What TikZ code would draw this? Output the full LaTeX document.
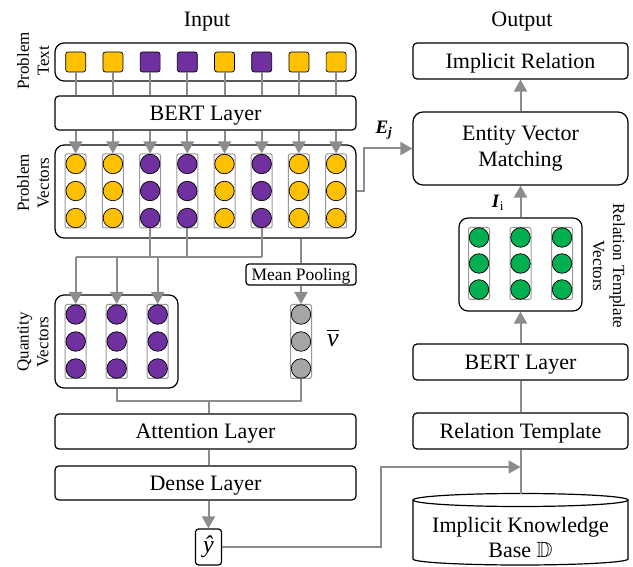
\documentclass[tikz,border=0pt]{standalone}
\usepackage{fontspec}
\usepackage{amssymb}
\setmainfont{Liberation Serif}
\usetikzlibrary{arrows.meta}
\definecolor{cy}{HTML}{FFC000}
\definecolor{cp}{HTML}{7030A0}
\definecolor{cg}{HTML}{00B050}
\definecolor{cgr}{HTML}{A6A6A6}
\definecolor{lgray}{HTML}{8C8C8C}
\definecolor{cgray}{HTML}{9A9A9A}
\begin{document}
\begin{tikzpicture}[x=1pt,y=-1pt,
  gl/.style={draw=lgray, line width=2pt},
  ga/.style={gl, -{Triangle[length=12pt,width=13pt]}},
  blk/.style={draw=black, line width=1.2pt, rounded corners=4pt, fill=white, font=\fontsize{22}{26}\selectfont, inner sep=0pt, align=center},
  onel/.style={text height=14.6pt, text depth=0pt},
  grp/.style={draw=black, line width=1.2pt, rounded corners=9pt},
  colbox/.style={draw=cgray, line width=1pt, fill=white, rounded corners=2pt, minimum width=21pt, minimum height=74pt, inner sep=0pt},
  dot/.style={circle, draw=black, line width=0.7pt, minimum size=19.5pt, inner sep=0pt},
  sq/.style={draw=black, line width=0.7pt, rounded corners=2.5pt, minimum size=20pt, inner sep=0pt},
  side/.style={font=\fontsize{17}{20}\selectfont, align=center, inner sep=0pt},
  ttl/.style={font=\fontsize{22}{26}\selectfont, inner sep=0pt, text height=14.6pt, text depth=0pt},
  lbl/.style={font=\fontsize{19}{22}\selectfont, inner sep=0pt}]
\useasboundingbox (0,0) rectangle (633,567);

% titles
\node[ttl] (tin) at (207,19) {Input};
\node[ttl] (tout) at (522,19) {Output};

% side labels
\node[side, rotate=90] (lpt) at (33,61) {Problem\\Text};
\node[side, rotate=90] (lpv) at (33,183) {Problem\\Vectors};
\node[side, rotate=90] (lqv) at (33,342) {Quantity\\Vectors};
\node[side, rotate=-90] (lrt) at (609,266) {Relation Template\\Vectors};

% left column boxes
\node[grp, minimum width=301pt, minimum height=38pt] (ptbox) at (205.5,62) {};
\node[blk, onel, minimum width=301pt, minimum height=34pt] (bert) at (205.5,113) {BERT Layer};
\node[grp, minimum width=301pt, minimum height=93pt] (pvbox) at (205.5,191.5) {};
\node[blk, rounded corners=3pt, minimum width=110pt, minimum height=21pt, font=\fontsize{17.5}{20}\selectfont, text height=11.6pt, text depth=0pt] (mp) at (301,274.5) {Mean Pooling};
\node[grp, minimum width=123pt, minimum height=93pt] (qbox) at (116.5,341.5) {};
\node[blk, onel, minimum width=301pt, minimum height=35pt] (att) at (205.5,431.5) {Attention Layer};
\node[blk, onel, minimum width=301pt, minimum height=34pt] (dense) at (205.5,483) {Dense Layer};
\node[blk, rounded corners=3pt, minimum width=26pt, minimum height=36pt, font=\fontsize{24}{28}\selectfont] (yhat) at (208.5,547) {\textit{ŷ}};

% problem text squares and problem vectors
\foreach \i/\col in {1/cy,2/cy,3/cp,4/cp,5/cy,6/cp,7/cy,8/cy} {
  \pgfmathsetmacro\xx{75.7+37.2*(\i-1)}
  \node[sq, fill=\col] (s\i) at (\xx,62) {};
  \node[colbox] (pv\i) at (\xx,191) {};
  \foreach \k/\yy in {a/164,b/191,c/218} \node[dot, fill=\col] (pv\i\k) at (\xx,\yy) {};
  \draw[gl] (s\i.south) -- (s\i.south |- bert.north);
  \draw[ga] (pv\i.north |- bert.south) -- (pv\i.north);
}

% quantity vectors
\foreach \i/\xx in {1/75.7,2/116.7,3/157.7} {
  \node[colbox] (qv\i) at (\xx,341.5) {};
  \foreach \k/\yy in {a/314.5,b/341.5,c/368.5} \node[dot, fill=cp] (qv\i\k) at (\xx,\yy) {};
}
% mean vector
\node[colbox] (vb) at (301,341.5) {};
\foreach \k/\yy in {a/314.5,b/341.5,c/368.5} \node[dot, fill=cgr] (vb\k) at (301,\yy) {};
\node[lbl, font=\fontsize{26}{30}\selectfont] (vbar) at (333,338) {$\overline{\textit{v}}$};

% bus from problem vectors to quantity vectors
\coordinate (bus) at (0,257);
\foreach \i in {3,4,6} \draw[gl] (pv\i.south) -- (pv\i.south |- bus);
\draw[gl] (qv1.north |- bus) -- (pv6.south |- bus);
\foreach \i in {1,2,3} \draw[ga] (qv\i.north |- bus) -- (qv\i.north);

% mean pooling
\draw[gl] (pvbox.south -| mp) -- (mp.north);
\draw[ga] (mp.south) -- (vb.north);

% join to attention
\coordinate (jn) at (208.5,401);
\draw[gl] (qbox.south) -- (qbox.south |- jn) -- (vb.south |- jn) -- (vb.south);
\draw[gl] (jn) -- (jn |- att.north);
\draw[gl] (att.south -| jn) -- (dense.north -| jn);
\draw[ga] (dense.south -| yhat) -- (yhat.north);

% right column
\node[blk, onel, minimum width=215pt, minimum height=36pt] (ir) at (520.5,61) {Implicit Relation};
\node[blk, rounded corners=10pt, minimum width=215pt, minimum height=73pt] (evm) at (520.5,148.5) {Entity Vector\\Matching};
\node[grp, minimum width=123pt, minimum height=93pt] (rtv) at (520.5,264.5) {};
\foreach \i/\xx in {1/479,2/520.5,3/562} {
  \node[colbox, minimum height=72pt] (rv\i) at (\xx,263.5) {};
  \foreach \k/\yy in {a/237.5,b/263.5,c/289.5} \node[dot, fill=cg] (rv\i\k) at (\xx,\yy) {};
}
\node[blk, onel, minimum width=215pt, minimum height=36pt] (bert2) at (520.5,362) {BERT Layer};
\node[blk, onel, minimum width=215pt, minimum height=36pt] (rt) at (520.5,431) {Relation Template};

% cylinder
\draw[line width=1.2pt, fill=white] (413,500) -- (413,559) arc[start angle=180, end angle=360, x radius=107.5pt, y radius=6pt] -- (628,500);
\draw[line width=1.2pt] (520.5,500) ellipse [x radius=107.5pt, y radius=6.5pt];
\coordinate (kbtop) at (520.5,493.5);
\node[font=\fontsize{22}{25}\selectfont, align=center, inner sep=0pt] (kb) at (520.5,537) {Implicit Knowledge\\Base $\mathbb{D}$};

% right connectors
\draw[ga] (evm.north) -- (ir.south);
\draw[ga] (rtv.north) -- (evm.south);
\draw[ga] (bert2.north) -- (rtv.south);
\draw[gl] (rt.north) -- (bert2.south);
\draw[gl] (rt.south) -- (kbtop);

% labels on connectors
\node[lbl] (ej) at (384,130) {\textbf{\textit{E}}\textsubscript{\textbf{\textit{j}}}};
\node[lbl] (ii) at (498,203) {\textbf{\textit{I}}\textsubscript{i}};

% cross connectors
\draw[ga] (pvbox.east) -- ++(7,0) |- (evm.west);
\coordinate (hit) at (520.5,467);
\draw[ga] (yhat.east) -| (381,467) -- (hit);
\end{tikzpicture}
\end{document}
